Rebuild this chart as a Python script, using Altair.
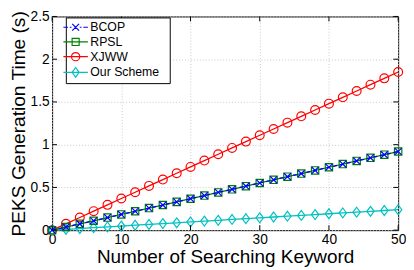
import altair as alt
import pandas as pd

keywords = [0, 2, 4, 6, 8, 10, 12, 14, 16, 18, 20, 22, 24, 26, 28, 30, 32, 34, 36, 38, 40, 42, 44, 46, 48, 50]
bcop = [0, 0.037, 0.074, 0.110, 0.147, 0.184, 0.221, 0.258, 0.294, 0.331, 0.368, 0.405, 0.442,
        0.478, 0.515, 0.552, 0.589, 0.626, 0.662, 0.699, 0.736, 0.773, 0.810, 0.846, 0.883, 0.920]
rpsl = [0, 0.037, 0.074, 0.110, 0.147, 0.184, 0.221, 0.258, 0.294, 0.331, 0.368, 0.405, 0.442,
        0.478, 0.515, 0.552, 0.589, 0.626, 0.662, 0.699, 0.736, 0.773, 0.810, 0.846, 0.883, 0.920]
xjww = [0, 0.074, 0.148, 0.222, 0.296, 0.370, 0.444, 0.518, 0.592, 0.666, 0.740, 0.814, 0.888,
        0.962, 1.036, 1.110, 1.184, 1.258, 1.332, 1.406, 1.480, 1.554, 1.628, 1.702, 1.776, 1.850]
ours = [0, 0.010, 0.019, 0.029, 0.038, 0.048, 0.058, 0.067, 0.077, 0.086, 0.096, 0.106, 0.115,
        0.125, 0.134, 0.144, 0.154, 0.163, 0.173, 0.182, 0.192, 0.202, 0.211, 0.221, 0.230, 0.240]

series_names = ["BCOP", "RPSL", "XJWW", "Our Scheme"]
series_colors = ["#0000ff", "#008000", "#ff0000", "#00c0c0"]
x_ticks = [0, 10, 20, 30, 40, 50]
y_ticks = [0, 0.5, 1, 1.5, 2, 2.5]

W, H = 353, 218
FONT = "Liberation Sans"

rows = []
for name, vals in zip(series_names, [bcop, rpsl, xjww, ours]):
    for k, v in zip(keywords, vals):
        rows.append({"series": name, "k": k, "t": v})
df = pd.DataFrame(rows)

xs = alt.Scale(domain=[0, 50], nice=False, zero=False)
ys = alt.Scale(domain=[0, 2.5], nice=False, zero=False)

x_axis = alt.Axis(values=x_ticks, grid=True, gridDash=[1, 2], gridColor="#c8c8c8", domain=False,
                  ticks=False, labelFontSize=14, labelPadding=3, labelColor="black", labelFont=FONT,
                  title="Number of Searching Keyword", titleFontSize=19.3, titleFont=FONT,
                  titleFontWeight="normal", titleColor="black", titlePadding=1, labelFlush=False)
y_axis = alt.Axis(values=y_ticks, grid=True, gridDash=[1, 2], gridColor="#c8c8c8", domain=False,
                  ticks=False, labelFontSize=14, labelPadding=3, labelColor="black", labelFont=FONT,
                  format="~g", title="PEKS Generation Time (s)", titleFontSize=19.5, titleFont=FONT,
                  titleFontWeight="normal", titleColor="black", titlePadding=2, labelFlush=False)

base = alt.Chart(df)

marker_paths = {
    "BCOP": "M-1,-1L1,1M-1,1L1,-1",
    "RPSL": "square",
    "XJWW": "circle",
    "Our Scheme": "M0,-1L0.75,0L0,1L-0.75,0Z",
}
marker_sizes = {"BCOP": 49, "RPSL": 56, "XJWW": 81, "Our Scheme": 100}

# legend symbols: line + marker, unit box 12px (6px per unit)
legend_paths = [
    "M-2.08,0H-1.3M-1.0,0H-0.7M0.7,0H1.0M1.3,0H2.08M-0.58,-0.58L0.58,0.58M-0.58,0.58L0.58,-0.58",
    "M-2.08,0H2.08M-0.6,-0.6H0.6V0.6H-0.6Z",
    "M-2.08,0H2.08M0.7,0A0.7,0.7 0 1,1 -0.7,0A0.7,0.7 0 1,1 0.7,0Z",
    "M-2.08,0H2.08M0,-0.82L0.6,0L0,0.82L-0.6,0Z",
]

leg = alt.Legend(title="\u00a0", titleOrient="right", titleFontSize=13, titlePadding=8,
                 orient="none", legendX=14, legendY=1,
                 strokeColor="black", fillColor="white", padding=3,
                 rowPadding=1, labelFontSize=12.5, labelFont=FONT,
                 labelColor="black", symbolSize=144, labelOffset=8,
                 symbolStrokeWidth=1.2)

layers = []
for name in ["XJWW", "Our Scheme", "RPSL", "BCOP"]:
    col = series_colors[series_names.index(name)]
    sub = base.transform_filter(alt.datum.series == name)
    line_kw = dict(color=col, strokeWidth=1.3)
    if name == "BCOP":
        line_kw["strokeDash"] = [4, 3]
    enc_x = alt.X("k:Q", scale=xs, axis=x_axis)
    enc_y = alt.Y("t:Q", scale=ys, axis=y_axis)
    layers.append(sub.mark_line(**line_kw).encode(x=enc_x, y=enc_y))
    layers.append(sub.mark_point(shape=marker_paths[name], size=marker_sizes[name], filled=False,
                                 color=col, strokeWidth=1.2, opacity=1).encode(x=enc_x, y=enc_y))

legend_layer = base.transform_filter("false").mark_point(filled=False, opacity=1, strokeWidth=1.2).encode(
    x=alt.X("k:Q", scale=xs, axis=x_axis), y=alt.Y("t:Q", scale=ys, axis=y_axis),
    color=alt.Color("series:N", scale=alt.Scale(domain=series_names, range=series_colors), legend=leg),
    shape=alt.Shape("series:N", scale=alt.Scale(domain=series_names, range=legend_paths), legend=leg),
)

xt = alt.Chart(pd.DataFrame({"v": x_ticks}))
yt = alt.Chart(pd.DataFrame({"v": y_ticks}))
tick_layers = [
    xt.mark_rule(color="black", strokeWidth=1).encode(x=alt.X("v:Q", scale=xs, axis=x_axis), y=alt.value(H), y2=alt.value(H - 5)),
    xt.mark_rule(color="black", strokeWidth=1).encode(x=alt.X("v:Q", scale=xs, axis=x_axis), y=alt.value(0), y2=alt.value(5)),
    yt.mark_rule(color="black", strokeWidth=1).encode(y=alt.Y("v:Q", scale=ys, axis=y_axis), x=alt.value(0), x2=alt.value(5)),
    yt.mark_rule(color="black", strokeWidth=1).encode(y=alt.Y("v:Q", scale=ys, axis=y_axis), x=alt.value(W), x2=alt.value(W - 5)),
]

chart = alt.layer(*layers, *tick_layers, legend_layer).properties(
    width=W, height=H,
    autosize=alt.AutoSizeParams(type="none"),
    padding={"left": 45, "top": 6, "right": 8, "bottom": 38},
    background="white",
).configure_view(stroke="black", strokeWidth=1)

chart.save("out.html", embed_options={"renderer": "svg", "actions": False})
